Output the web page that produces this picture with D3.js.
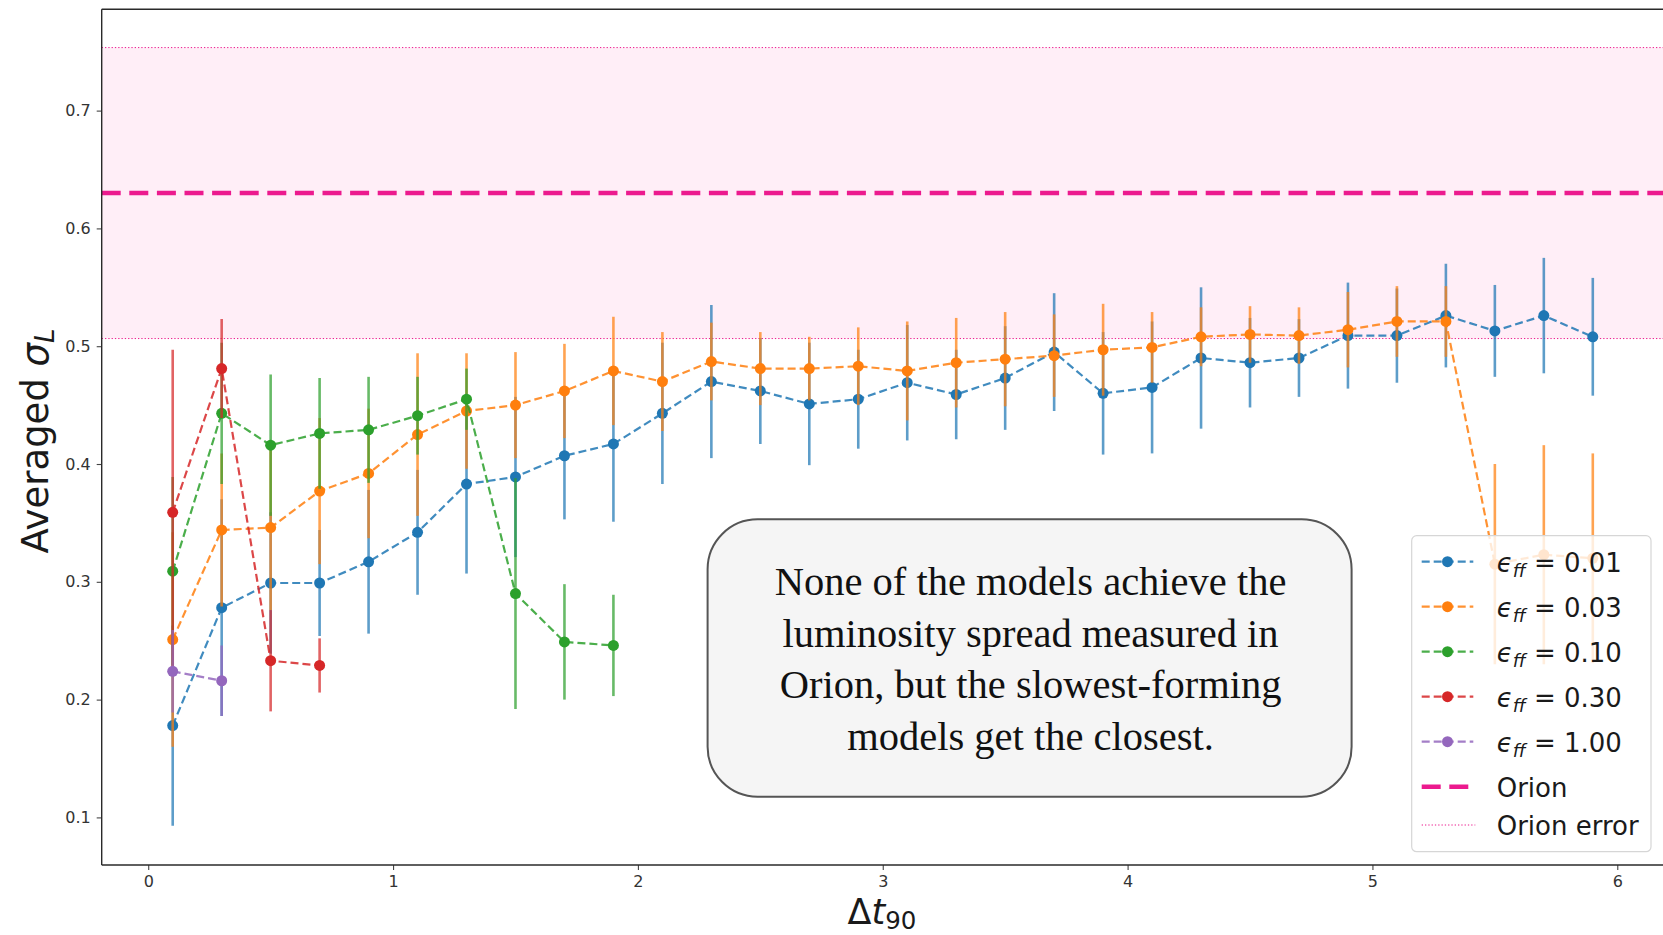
<!DOCTYPE html>
<html>
<head>
<meta charset="utf-8">
<script src="https://cdn.jsdelivr.net/npm/d3@7"></script>
<style>
  html, body { margin: 0; padding: 0; background: #fff; }
  svg { display: block; font-family: "DejaVu Sans", sans-serif; }
  .note-text { font-family: "Liberation Serif", "DejaVu Serif", serif; }
</style>
</head>
<body>
<svg id="chart" width="1663" height="935"></svg>
<script>
// Time-spread values (Δt90) at which every model was sampled
const dt90 = [0.1, 0.3, 0.5, 0.7, 0.9, 1.1, 1.3, 1.5, 1.7, 1.9,
              2.1, 2.3, 2.5, 2.7, 2.9, 3.1, 3.3, 3.5, 3.7, 3.9,
              4.1, 4.3, 4.5, 4.7, 4.9, 5.1, 5.3, 5.5, 5.7, 5.9];

// Averaged luminosity spread σ_L and its error, one pair of arrays per ε_ff
const sigmaEff001 = [0.178, 0.278, 0.299, 0.299, 0.317, 0.342, 0.383, 0.389, 0.407, 0.417,
                     0.443, 0.470, 0.462, 0.451, 0.455, 0.469, 0.459, 0.473, 0.495, 0.460,
                     0.465, 0.490, 0.486, 0.490, 0.509, 0.509, 0.526, 0.513, 0.526, 0.508];
const errEff001   = [0.085, 0.092, 0.060, 0.045, 0.061, 0.053, 0.076, 0.068, 0.054, 0.066,
                     0.060, 0.065, 0.045, 0.052, 0.042, 0.049, 0.038, 0.044, 0.050, 0.052,
                     0.056, 0.060, 0.038, 0.033, 0.045, 0.040, 0.044, 0.039, 0.049, 0.050];

const sigmaEff003 = [0.251, 0.344, 0.346, 0.377, 0.392, 0.425, 0.445, 0.450, 0.462, 0.479,
                     0.470, 0.487, 0.481, 0.481, 0.483, 0.479, 0.486, 0.489, 0.492, 0.497,
                     0.499, 0.508, 0.510, 0.509, 0.514, 0.521, 0.521, 0.315, 0.323, 0.320];
const errEff003   = [0.091, 0.065, 0.070, 0.062, 0.055, 0.069, 0.049, 0.045, 0.040, 0.046,
                     0.042, 0.033, 0.031, 0.027, 0.033, 0.042, 0.038, 0.040, 0.035, 0.039,
                     0.030, 0.025, 0.024, 0.024, 0.032, 0.030, 0.030, 0.085, 0.093, 0.089];

const sigmaEff010 = [0.309, 0.443, 0.416, 0.426, 0.429, 0.441, 0.455, 0.290, 0.249, 0.246];
const errEff010   = [0.080, 0.060, 0.060, 0.047, 0.045, 0.033, 0.026, 0.098, 0.049, 0.043];

const sigmaEff030 = [0.359, 0.481, 0.233, 0.229];
const errEff030   = [0.138, 0.042, 0.043, 0.023];

const sigmaEff100 = [0.224, 0.216];
const errEff100   = [0.035, 0.030];

const effLabels = ["0.01", "0.03", "0.10", "0.30", "1.00"];

// Observed Orion spread and its uncertainty
const orionSigma = 0.63;
const orionErr = 0.1235;

const xTicks = [0, 1, 2, 3, 4, 5, 6];
const yTicks = [0.1, 0.2, 0.3, 0.4, 0.5, 0.6, 0.7];

const noteLines = [
  "None of the models achieve the",
  "luminosity spread measured in",
  "Orion, but the slowest-forming",
  "models get the closest."
];

const palette = ["#1f77b4", "#ff7f0e", "#2ca02c", "#d62728", "#9467bd"];
const orionColor = "#ec1a8e";

const seriesList = [
  { label: effLabels[0], values: sigmaEff001, errors: errEff001, color: palette[0] },
  { label: effLabels[1], values: sigmaEff003, errors: errEff003, color: palette[1] },
  { label: effLabels[2], values: sigmaEff010, errors: errEff010, color: palette[2] },
  { label: effLabels[3], values: sigmaEff030, errors: errEff030, color: palette[3] },
  { label: effLabels[4], values: sigmaEff100, errors: errEff100, color: palette[4] }
];

// ---- layout ----
const plot = { left: 101.7, right: 1663.8, top: 9.3, bottom: 865 };

const x = d3.scaleLinear().domain([-0.19, 6.19]).range([plot.left, plot.right]);
const y = d3.scaleLinear().domain([0.0596, 0.786]).range([plot.bottom, plot.top]);

const svg = d3.select("#chart");

svg.append("defs").append("clipPath").attr("id", "plotClip")
  .append("rect")
  .attr("x", plot.left).attr("y", plot.top)
  .attr("width", plot.right - plot.left).attr("height", plot.bottom - plot.top);

const area = svg.append("g").attr("clip-path", "url(#plotClip)");

// Orion band, centre line and error lines
area.append("rect")
  .attr("x", x.range()[0]).attr("width", x.range()[1] - x.range()[0])
  .attr("y", y(orionSigma + orionErr))
  .attr("height", y(orionSigma - orionErr) - y(orionSigma + orionErr))
  .attr("fill", "rgb(255,20,147)").attr("fill-opacity", 0.07);

[orionSigma + orionErr, orionSigma - orionErr].forEach(v => {
  area.append("line")
    .attr("x1", x.range()[0]).attr("x2", x.range()[1])
    .attr("y1", y(v)).attr("y2", y(v))
    .attr("stroke", orionColor).attr("stroke-width", 1)
    .attr("stroke-dasharray", "1.3,2");
});

area.append("line")
  .attr("x1", x.range()[0]).attr("x2", x.range()[1])
  .attr("y1", y(orionSigma)).attr("y2", y(orionSigma))
  .attr("stroke", orionColor).attr("stroke-width", 4.6)
  .attr("stroke-dasharray", "19,8.6");

// Model series: error bars, dashed connectors, markers
const lineGen = d3.line().x(d => x(d.t)).y(d => y(d.v));

seriesList.forEach(s => {
  const pts = s.values.map((v, i) => ({ t: dt90[i], v: v, e: s.errors[i] }));
  const g = area.append("g");
  g.selectAll("line.err").data(pts).join("line")
    .attr("class", "err")
    .attr("x1", d => x(d.t)).attr("x2", d => x(d.t))
    .attr("y1", d => y(d.v - d.e)).attr("y2", d => y(d.v + d.e))
    .attr("stroke", s.color).attr("stroke-width", 2.6)
    .attr("stroke-opacity", 0.72);
  g.append("path").datum(pts)
    .attr("d", lineGen)
    .attr("fill", "none")
    .attr("stroke", s.color).attr("stroke-width", 2.2)
    .attr("stroke-opacity", 0.85)
    .attr("stroke-dasharray", "8,4");
  g.selectAll("circle").data(pts).join("circle")
    .attr("cx", d => x(d.t)).attr("cy", d => y(d.v))
    .attr("r", 5.5).attr("fill", s.color);
});

// ---- axes ----
const axisColor = "#2a2a2a";
const xAxis = svg.append("g")
  .attr("transform", `translate(0,${plot.bottom})`)
  .call(d3.axisBottom(x).tickValues(xTicks).tickFormat(d3.format("d")).tickSize(5).tickPadding(6));
const yAxis = svg.append("g")
  .attr("transform", `translate(${plot.left},0)`)
  .call(d3.axisLeft(y).tickValues(yTicks).tickFormat(d3.format(".1f")).tickSize(5).tickPadding(6));

[xAxis, yAxis].forEach(a => {
  a.select(".domain").remove();
  a.selectAll(".tick line").attr("stroke", "#444").attr("stroke-width", 1.1);
  a.selectAll(".tick text").attr("fill", "#333").attr("font-size", 16)
    .style("font-family", "'DejaVu Sans', sans-serif");
});

// spines
[[plot.left, plot.top, plot.left, plot.bottom],
 [plot.left, plot.bottom, plot.right, plot.bottom],
 [plot.left, plot.top, plot.right, plot.top],
 [plot.right, plot.top, plot.right, plot.bottom]].forEach(([x1, y1, x2, y2]) => {
  svg.append("line").attr("x1", x1).attr("y1", y1).attr("x2", x2).attr("y2", y2)
    .attr("stroke", axisColor).attr("stroke-width", 1.4);
});

// axis titles
const yTitle = svg.append("text")
  .attr("transform", "translate(48,441) rotate(-90)")
  .attr("text-anchor", "middle")
  .attr("font-size", 37).attr("fill", "#1a1a1a");
yTitle.append("tspan").text("Averaged ");
yTitle.append("tspan").attr("font-style", "italic").text("σ");
yTitle.append("tspan").attr("font-style", "italic").attr("font-size", 26).attr("dy", 6).text("L");

const xTitle = svg.append("text")
  .attr("x", 882).attr("y", 924)
  .attr("text-anchor", "middle")
  .attr("font-size", 35).attr("fill", "#1a1a1a");
xTitle.append("tspan").text("Δ");
xTitle.append("tspan").attr("font-style", "italic").text("t");
xTitle.append("tspan").attr("font-size", 24.5).attr("dy", 5).text("90");

// ---- annotation box ----
const note = { x: 707.6, y: 519.3, w: 644, h: 277.4 };
svg.append("rect")
  .attr("x", note.x).attr("y", note.y).attr("width", note.w).attr("height", note.h)
  .attr("rx", 50).attr("ry", 50)
  .attr("fill", "#f5f5f5").attr("stroke", "#555").attr("stroke-width", 2);
svg.append("g").selectAll("text").data(noteLines).join("text")
  .attr("class", "note-text")
  .attr("x", note.x + note.w / 2 + 1)
  .attr("y", (d, i) => 595 + i * 51.7)
  .attr("text-anchor", "middle")
  .attr("font-size", 40.5)
  .attr("fill", "#111")
  .text(d => d);

// ---- legend ----
const leg = { x: 1411.7, y: 535.7, w: 239.3, h: 316 };
const lg = svg.append("g");
lg.append("rect")
  .attr("x", leg.x).attr("y", leg.y).attr("width", leg.w).attr("height", leg.h)
  .attr("rx", 5).attr("ry", 5)
  .attr("fill", "#fff").attr("fill-opacity", 0.8)
  .attr("stroke", "#d6d6d6").attr("stroke-width", 1.2);

const handleX0 = 1421.7, handleX1 = 1473.3, textX = 1496.7;
const rowBaselines = [571.7, 616.7, 661.7, 706.7, 751.7, 796.7, 835];

seriesList.forEach((s, i) => {
  const cy = rowBaselines[i] - 10;
  lg.append("line")
    .attr("x1", handleX0).attr("x2", handleX1).attr("y1", cy).attr("y2", cy)
    .attr("stroke", s.color).attr("stroke-width", 2.2).attr("stroke-opacity", 0.85)
    .attr("stroke-dasharray", "8,4");
  lg.append("circle").attr("cx", (handleX0 + handleX1) / 2).attr("cy", cy)
    .attr("r", 5.5).attr("fill", s.color);
  const t = lg.append("text").attr("x", textX).attr("y", rowBaselines[i])
    .attr("font-size", 26).attr("fill", "#1a1a1a");
  t.append("tspan").attr("font-style", "italic").text("ϵ");
  t.append("tspan").attr("font-style", "italic").attr("font-size", 18).attr("dy", 5).text("ff");
  t.append("tspan").attr("dy", -5).text(" = " + s.label);
});

{
  const cy = rowBaselines[5] - 10;
  lg.append("line")
    .attr("x1", handleX0).attr("x2", handleX1).attr("y1", cy).attr("y2", cy)
    .attr("stroke", orionColor).attr("stroke-width", 4.6)
    .attr("stroke-dasharray", "19,8.6");
  lg.append("text").attr("x", textX).attr("y", rowBaselines[5])
    .attr("font-size", 26).attr("fill", "#1a1a1a").text("Orion");
}
{
  const cy = rowBaselines[6] - 10;
  lg.append("line")
    .attr("x1", handleX0).attr("x2", handleX1 + 2).attr("y1", cy).attr("y2", cy)
    .attr("stroke", orionColor).attr("stroke-width", 1)
    .attr("stroke-dasharray", "1.3,2");
  lg.append("text").attr("x", textX).attr("y", rowBaselines[6])
    .attr("font-size", 26).attr("fill", "#1a1a1a").text("Orion error");
}
</script>
</body>
</html>
